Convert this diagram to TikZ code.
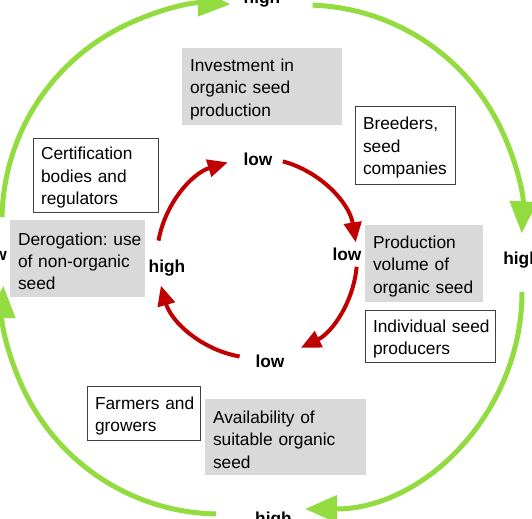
\documentclass[tikz,border=0pt]{standalone}
\usepackage{fontspec}
\setmainfont{Liberation Sans}
\usetikzlibrary{arrows.meta}
\definecolor{boxgray}{HTML}{D9D9D9}
\definecolor{loopred}{HTML}{C00000}
\definecolor{loopgreen}{HTML}{92DC40}

\begin{document}
\begin{tikzpicture}[x=0.75pt, y=-0.75pt,
    every node/.style={font=\fontsize{13}{16.8}\selectfont},
    graybox/.style={fill=boxgray, align=left, inner xsep=6pt, inner ysep=0pt, execute at begin node=\rule{0pt}{13.5pt}},
    linebox/.style={draw=black!75, line width=0.75pt, fill=white, align=left, inner xsep=6pt, inner ysep=0pt, execute at begin node=\rule{0pt}{13.5pt}},
    level/.style={font=\fontsize{13}{16}\selectfont\bfseries, inner sep=0pt, anchor=base},
    redloop/.style={draw=loopred, line width=3pt, -{Triangle[length=15pt, width=13pt]}},
    greenloop/.style={draw=loopgreen, line width=3.75pt, -{Triangle[length=24pt, width=20pt]}}]
    \useasboundingbox (0,0) rectangle (532,518);
    \clip (0,0) rectangle (532,518);

    % boxes
    \node[graybox, minimum width=120pt, minimum height=57.75pt, text width=108pt] (invest) at (262,86.5) {Investment in\\organic seed\\production};
    \node[linebox, minimum width=75pt, minimum height=58.5pt, text width=63pt] (breeders) at (405,145) {Breeders,\\seed\\companies};
    \node[linebox, minimum width=93.75pt, minimum height=55.5pt, text width=81.75pt] (certif) at (95.5,175) {Certification\\bodies and\\regulators};
    \node[graybox, minimum width=101.25pt, minimum height=57.75pt, text width=89.25pt] (derog) at (77.5,258.5) {Derogation:~use\\of non-organic\\seed};
    \node[graybox, minimum width=88.5pt, minimum height=57.75pt, text width=76.5pt] (volume) at (424,263.5) {Production\\volume of\\organic seed};
    \node[linebox, minimum width=97.5pt, minimum height=39pt, text width=85.5pt] (producers) at (430,336) {Individual~seed\\producers};
    \node[linebox, minimum width=84.75pt, minimum height=40.5pt, text width=72.75pt] (farmers) at (143.5,413) {Farmers~and\\growers};
    \node[graybox, minimum width=120.75pt, minimum height=57pt, text width=108.75pt] (avail) at (285.5,437) {Availability of\\suitable organic\\seed};

    % levels on the two loops
    \node[level] (gtop) at (262,3) {high};
    \node[level, anchor=base west] (gright) at (503,264) {high};
    \node[level, anchor=base east] (gleft) at (7,260) {low};
    \node[level] (gbot) at (273.5,524) {high};
    \node[level] (rtop) at (258,165) {low};
    \node[level] (rright) at (347,260) {low};
    \node[level] (rbot) at (270,367) {low};
    \node[level] (rleft) at (167,272) {high};

    % inner loop
    \coordinate (inner) at (257,258);
    \draw[redloop] ([shift={(-170:100)}]inner) arc[start angle=-170, end angle=-107, radius=100];
    \draw[redloop] ([shift={(-75:100)}]inner) arc[start angle=-75, end angle=-9, radius=100];
    \draw[redloop] ([shift={(5:100)}]inner) arc[start angle=5, end angle=64, radius=100];
    \draw[redloop] ([shift={(100:100)}]inner) arc[start angle=100, end angle=164, radius=100];

    % outer loop
    \coordinate (outerTL) at (219,221);
    \coordinate (outerTR) at (305,222);
    \coordinate (outerBR) at (305,292);
    \coordinate (outerBL) at (220,297);
    \draw[greenloop] ([shift={(-179:217)}]outerTL) arc[start angle=-179, end angle=-87, radius=217];
    \draw[greenloop] ([shift={(-88:217)}]outerTR) arc[start angle=-88, end angle=3, radius=217];
    \draw[greenloop] ([shift={(0:217)}]outerBR) arc[start angle=0, end angle=90, radius=217];
    \draw[greenloop] ([shift={(91:217)}]outerBL) arc[start angle=91, end angle=183, radius=217];
\end{tikzpicture}
\end{document}
